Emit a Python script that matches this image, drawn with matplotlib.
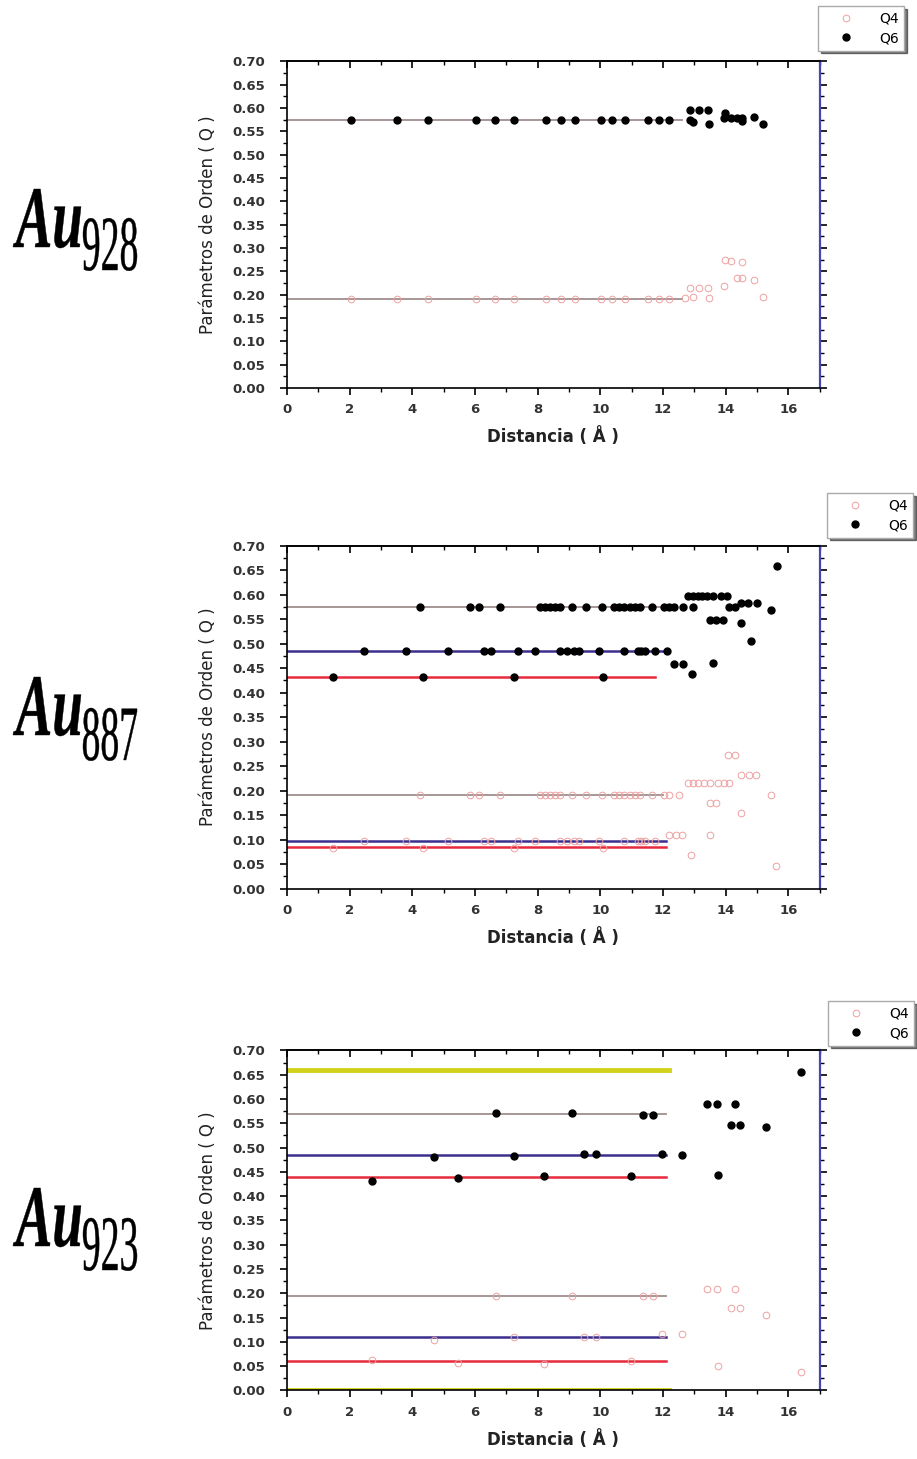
import matplotlib.pyplot as plt
from matplotlib.ticker import MultipleLocator, FormatStrFormatter
from matplotlib.textpath import TextPath
from matplotlib.patches import PathPatch
from matplotlib.font_manager import FontProperties
from matplotlib.transforms import Affine2D

# ---------------- Au928 ----------------
au928_q6_x = [2.04, 3.51, 4.50, 6.04, 6.64, 7.25, 8.26, 8.75, 9.19, 10.01, 10.38, 10.78, 11.51, 11.87, 12.20,
              12.86, 12.86, 12.97, 13.13, 13.43, 13.47, 13.94, 13.98, 14.18, 14.35, 14.51, 14.51, 14.90, 15.18]
au928_q6_y = [0.575, 0.575, 0.575, 0.575, 0.575, 0.575, 0.575, 0.575, 0.575, 0.575, 0.575, 0.575, 0.575, 0.575, 0.575,
              0.595, 0.575, 0.570, 0.595, 0.595, 0.565, 0.578, 0.590, 0.578, 0.578, 0.578, 0.572, 0.580, 0.565]
au928_q4_x = [2.04, 3.51, 4.50, 6.04, 6.64, 7.25, 8.26, 8.75, 9.19, 10.01, 10.38, 10.78, 11.51, 11.87, 12.20,
              12.70, 12.86, 12.97, 13.13, 13.43, 13.47, 13.94, 13.98, 14.18, 14.35, 14.51, 14.51, 14.90, 15.18]
au928_q4_y = [0.191, 0.191, 0.191, 0.191, 0.191, 0.191, 0.191, 0.191, 0.191, 0.191, 0.191, 0.191, 0.191, 0.191, 0.191,
              0.193, 0.215, 0.195, 0.215, 0.215, 0.193, 0.218, 0.275, 0.272, 0.236, 0.236, 0.270, 0.232, 0.195]
au928_levels = [0.575, 0.191]
au928_ends = [12.6, 12.6]
au928_kinds = [0, 0]

# ---------------- Au887 ----------------
au887_q6_x = [4.25, 5.85, 6.13, 6.79, 8.06, 8.22, 8.39, 8.55, 8.72, 9.08, 9.53, 10.04, 10.43, 10.60, 10.76,
              10.93, 11.09, 11.26, 11.64, 12.03, 12.20, 12.36, 12.64, 12.97,
              12.80, 12.95, 13.10, 13.25, 13.40, 13.60, 13.85, 14.05, 14.10, 14.30, 14.50, 14.70, 15.00,
              15.45, 15.65, 13.50, 13.70, 13.90, 14.50, 14.80,
              2.46, 3.81, 5.13, 6.29, 6.51, 7.37, 7.92, 8.70, 8.94, 9.16, 9.33, 9.97, 10.74, 11.20, 11.31,
              11.42, 11.75, 12.14, 12.34, 12.64, 12.91, 13.58,
              1.47, 4.34, 7.23, 10.08]
au887_q6_y = [0.575, 0.575, 0.575, 0.575, 0.575, 0.575, 0.575, 0.575, 0.575, 0.575, 0.575, 0.575, 0.575, 0.575, 0.575,
              0.575, 0.575, 0.575, 0.575, 0.575, 0.575, 0.575, 0.575, 0.575,
              0.597, 0.597, 0.597, 0.597, 0.597, 0.597, 0.597, 0.597, 0.574, 0.574, 0.583, 0.583, 0.583,
              0.569, 0.658, 0.548, 0.548, 0.548, 0.543, 0.506,
              0.485, 0.485, 0.485, 0.485, 0.485, 0.485, 0.485, 0.485, 0.485, 0.485, 0.485, 0.485, 0.485, 0.485, 0.485,
              0.485, 0.485, 0.485, 0.459, 0.459, 0.438, 0.460,
              0.432, 0.432, 0.432, 0.432]
au887_q4_x = [4.25, 5.85, 6.13, 6.79, 8.06, 8.22, 8.39, 8.55, 8.72, 9.08, 9.53, 10.04, 10.43, 10.60, 10.76,
              10.93, 11.09, 11.26, 11.64, 12.03, 12.20, 12.50,
              12.80, 12.95, 13.10, 13.30, 13.50, 13.75, 13.95, 14.10, 14.07, 14.30, 14.50, 14.75, 14.95,
              13.50, 13.70, 14.50, 15.45,
              2.46, 3.81, 5.13, 6.29, 6.51, 7.37, 7.92, 8.70, 8.94, 9.16, 9.33, 9.97, 10.74, 11.20, 11.31,
              11.42, 11.75, 12.20, 12.40, 12.60, 13.50, 12.90, 15.60,
              1.47, 4.34, 7.23, 10.08]
au887_q4_y = [0.191, 0.191, 0.191, 0.191, 0.191, 0.191, 0.191, 0.191, 0.191, 0.191, 0.191, 0.191, 0.191, 0.191, 0.191,
              0.191, 0.191, 0.191, 0.191, 0.191, 0.190, 0.190,
              0.215, 0.215, 0.215, 0.215, 0.215, 0.215, 0.215, 0.215, 0.273, 0.273, 0.232, 0.232, 0.232,
              0.174, 0.174, 0.154, 0.191,
              0.098, 0.098, 0.098, 0.098, 0.098, 0.098, 0.098, 0.098, 0.098, 0.098, 0.098, 0.098, 0.098, 0.098, 0.098,
              0.098, 0.098, 0.109, 0.109, 0.109, 0.109, 0.068, 0.045,
              0.083, 0.083, 0.083, 0.083]
au887_levels = [0.575, 0.485, 0.432, 0.191, 0.097, 0.085]
au887_ends = [12.0, 12.1, 11.75, 12.0, 12.1, 12.1]
au887_kinds = [0, 1, 2, 0, 1, 2]

# ---------------- Au923 ----------------
au923_q6_x = [6.68, 9.08, 11.35, 11.68, 4.69, 7.23, 9.47, 9.86, 11.95, 12.60, 2.70, 5.44, 8.20, 10.96,
              13.41, 13.72, 14.29, 14.18, 14.46, 15.29, 16.39, 13.74]
au923_q6_y = [0.572, 0.572, 0.568, 0.568, 0.480, 0.483, 0.487, 0.486, 0.487, 0.484, 0.432, 0.438, 0.442, 0.442,
              0.590, 0.590, 0.590, 0.546, 0.546, 0.542, 0.655, 0.443]
au923_q4_x = [6.68, 9.08, 11.35, 11.68, 4.69, 7.23, 9.47, 9.86, 11.95, 12.60, 2.70, 5.44, 8.20, 10.96,
              13.41, 13.72, 14.29, 14.18, 14.46, 15.29, 16.39, 13.74]
au923_q4_y = [0.195, 0.195, 0.195, 0.195, 0.104, 0.110, 0.110, 0.110, 0.117, 0.116, 0.062, 0.057, 0.055, 0.060,
              0.209, 0.209, 0.209, 0.170, 0.170, 0.155, 0.038, 0.050]
au923_levels = [0.570, 0.485, 0.440, 0.660, 0.195, 0.110, 0.060, 0.000]
au923_ends = [12.1, 12.1, 12.1, 12.2, 12.1, 12.1, 12.1, 12.2]
au923_kinds = [0, 1, 2, 3, 0, 1, 2, 3]

# estilos de las lineas de referencia (gris, azul, rojo, amarillo)
line_colors = ['#a08e8e', '#3b2f8e', '#e62a3c', '#d2d21c']
line_widths = [1.3, 1.8, 1.8, 3.5]

panels = [
    ('928', au928_q4_x, au928_q4_y, au928_q6_x, au928_q6_y, au928_levels, au928_ends, au928_kinds),
    ('887', au887_q4_x, au887_q4_y, au887_q6_x, au887_q6_y, au887_levels, au887_ends, au887_kinds),
    ('923', au923_q4_x, au923_q4_y, au923_q6_x, au923_q6_y, au923_levels, au923_ends, au923_kinds),
]
# [left, bottom, width, height] en fraccion de figura
axes_pos = [[0.313, 0.734, 0.581, 0.224],
            [0.313, 0.391, 0.581, 0.235],
            [0.313, 0.047, 0.581, 0.233]]
# esquina sup. izq. de la leyenda, en pixeles
legend_px = [(818, 6), (827, 493), (828, 1001)]
# etiquetas Au: (linea base de "Au", linea base del subindice), en pixeles
label_base_px = [(247, 270), (735, 760), (1246, 1270)]

W, H = 917, 1459
plt.rcParams['font.family'] = ['DejaVu Sans']
fig = plt.figure(figsize=(W / 100, H / 100), dpi=100)


def condensed_text(text, x_px, base_px, h_px, w_px, style, weight):
    # texto como trayectoria, comprimido en horizontal
    tp = TextPath((0, 0), text, size=1,
                  prop=FontProperties(family='Liberation Serif', style=style, weight=weight))
    bb = tp.get_extents()
    tr = Affine2D().translate(-bb.x0, 0).scale(w_px / bb.width / 100, h_px / bb.y1 / 100) \
        .translate(x_px / 100, (H - base_px) / 100) + fig.dpi_scale_trans
    fig.add_artist(PathPatch(tp, transform=tr, facecolor='black', edgecolor='black', lw=0.3))


for i, (name, q4x, q4y, q6x, q6y, levels, ends, kinds) in enumerate(panels):
    ax = fig.add_axes(axes_pos[i])
    for lev, xe, k in zip(levels, ends, kinds):
        ax.plot([0, xe], [lev, lev], color=line_colors[k], linewidth=line_widths[k], zorder=2)
    h4, = ax.plot(q4x, q4y, 'o', markersize=4.8, markerfacecolor='none', markeredgecolor='#eea0a0',
                  markeredgewidth=0.7, linestyle='none', label='Q4', zorder=3)
    h6, = ax.plot(q6x, q6y, 'o', markersize=5, color='black', linestyle='none', label='Q6', zorder=4)

    ax.set_xlim(0, 17)
    ax.set_ylim(0, 0.70)
    ax.xaxis.set_major_locator(MultipleLocator(2))
    ax.xaxis.set_minor_locator(MultipleLocator(1))
    ax.yaxis.set_major_locator(MultipleLocator(0.05))
    ax.yaxis.set_minor_locator(MultipleLocator(0.025))
    ax.yaxis.set_major_formatter(FormatStrFormatter('%.2f'))
    ax.tick_params(axis='both', which='major', length=5, width=1.2, direction='out')
    ax.tick_params(axis='both', which='minor', length=3, width=1, direction='out')
    ax.tick_params(axis='y', which='both', right=True)
    ax.tick_params(axis='y', which='major', labelsize=9.5, labelcolor='#333333', pad=11)
    ax.tick_params(axis='x', which='major', labelsize=9.5, labelcolor='#333333', pad=6)
    for lab in ax.get_xticklabels() + ax.get_yticklabels():
        lab.set_fontweight('bold')
    top = ax.secondary_xaxis('top')
    top.xaxis.set_major_locator(MultipleLocator(2))
    top.xaxis.set_minor_locator(MultipleLocator(1))
    top.tick_params(which='major', direction='in', length=5, width=1.2, labeltop=False)
    top.tick_params(which='minor', direction='in', length=3, width=1)
    top.spines['top'].set_linewidth(1.2)
    ax.spines['right'].set_color('#4646b0')
    ax.spines['right'].set_linewidth(1.6)
    for s in ['left', 'bottom', 'top']:
        ax.spines[s].set_linewidth(1.2)
    ax.set_xlabel('Distancia ( Å )', fontsize=12, fontweight='bold', color='#222222', labelpad=8)
    ax.set_ylabel('Parámetros de Orden ( Q )', fontsize=12, color='#222222', labelpad=11)

    lx, ly = legend_px[i]
    fig.legend(handles=[h4, h6], loc='upper left', bbox_to_anchor=(lx / W, 1 - ly / H), borderaxespad=0,
               fontsize=10, frameon=True, fancybox=False, shadow={'color': 'black'}, edgecolor='#aaaaaa',
               handlelength=3.2, handletextpad=0.8, borderpad=0.4, labelspacing=0.4)

    b1, b2 = label_base_px[i]
    condensed_text('Au', 13, b1, 58, 68, 'italic', 'bold')
    condensed_text(name, 83, b2, 52, 54, 'normal', 'normal')

fig.savefig('out.png', dpi=100)
